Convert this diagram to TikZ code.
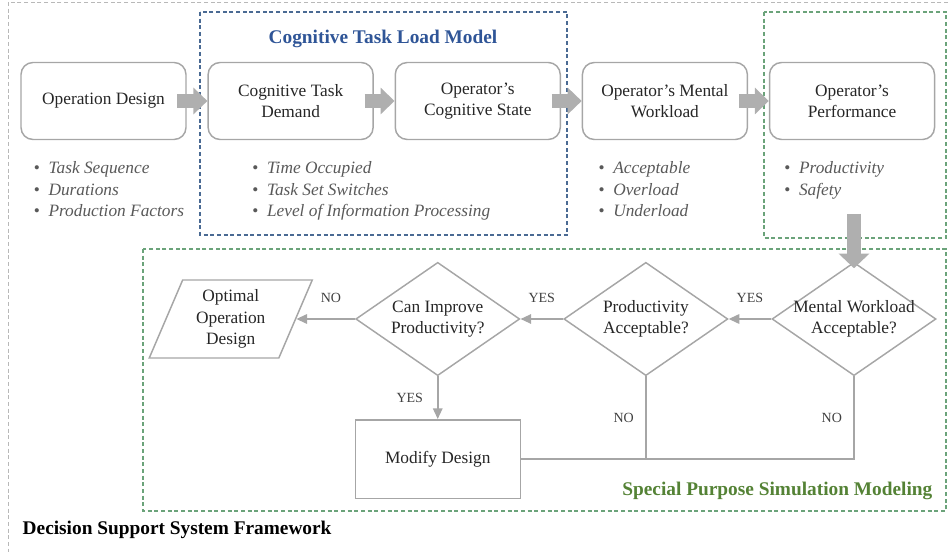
\documentclass[tikz,border=0pt]{standalone}
\usepackage{fontspec}
\setmainfont{Liberation Serif}
\usepackage{tikz}
\usetikzlibrary{shapes.geometric, arrows.meta, positioning}

\definecolor{linegray}{HTML}{A6A6A6}
\definecolor{boxtext}{HTML}{262626}
\definecolor{listgray}{HTML}{595959}
\definecolor{ctlblue}{HTML}{4A6A93}
\definecolor{titleblue}{HTML}{2F5597}
\definecolor{spsgreen}{HTML}{6BA37A}
\definecolor{titlegreen}{HTML}{548235}
\definecolor{outergray}{HTML}{B8B8B8}

\newcommand{\itm}[1]{\makebox[11pt][l]{\textbullet}\textit{#1}}

\tikzset{
  stagebox/.style={draw=linegray, line width=1.1pt, rounded corners=9pt, text=boxtext,
    minimum width=123.75pt, minimum height=57.75pt, align=center,
    font=\fontsize{13}{16}\selectfont},
  bullets/.style={text=listgray, align=left, inner sep=0pt,
    font=\fontsize{13}{16}\selectfont},
  decision/.style={diamond, draw=linegray, line width=1.1pt, inner sep=0pt,
    minimum width=123pt, minimum height=85pt},
  dtext/.style={align=center, text=boxtext, font=\fontsize{13}{16}\selectfont},
  process/.style={draw=linegray, line width=1.1pt, text=boxtext,
    minimum width=123.75pt, minimum height=59pt, font=\fontsize{13}{16}\selectfont},
  output/.style={trapezium, trapezium left angle=68, trapezium right angle=112,
    trapezium stretches=true, draw=linegray, line width=1.1pt, text=boxtext,
    minimum width=123pt, minimum height=58.5pt, align=center,
    font=\fontsize{13}{16}\selectfont},
  fatarrow/.style={draw=linegray!90, line width=10.5pt,
    -{Triangle[length=10.5pt, width=19.5pt]}},
  downarrow/.style={draw=linegray!90, line width=10.5pt,
    -{Triangle[length=11pt, width=22.5pt]}},
  flow/.style={draw=linegray, line width=1.5pt, -{Triangle[length=8pt, width=7pt]}},
  flowline/.style={draw=linegray, line width=1.5pt},
  lbl/.style={text=black!75, font=\fontsize{10.5}{12}\selectfont},
  frame/.style={dashed, dash pattern=on 3pt off 2pt, line width=0.9pt},
  heading/.style={font=\fontsize{14.5}{17}\selectfont\bfseries}
}

\begin{document}
\begin{tikzpicture}[x=0.75pt, y=-0.75pt, node distance=15.5pt]
  \useasboundingbox (0,0) rectangle (951,552);

  % frames
  \draw[frame, outergray, line width=0.7pt] (8,2) rectangle (970,570);
  \draw[frame, ctlblue] (200,12) rectangle (567,235);
  \draw[frame, spsgreen] (764,12) rectangle (946,238);
  \draw[frame, spsgreen] (143,249) rectangle (946,511);

  \node (ctltitle) [heading, text=titleblue] at (383,39) {Cognitive Task Load Model};
  \node (spstitle) [heading, text=titlegreen, anchor=east] at (937,491) {Special Purpose Simulation Modeling};
  \node (dsstitle) [heading, text=black, anchor=west] at (18,530) {Decision Support System Framework};

  % top row
  \node (od) [stagebox] at (103.5,101) {Operation Design};
  \node (ctd) [stagebox, right=of od] {Cognitive Task\\Demand};
  \node (ocs) [stagebox, right=of ctd] {Operator's\\Cognitive State};
  \node (omw) [stagebox, right=of ocs] {Operator's Mental\\Workload};
  \node (perf) [stagebox, right=of omw] {Operator's\\Performance};

  \node (odlist) [bullets, below right=16pt and 10pt of od.south west]
    {\itm{Task Sequence}\\\itm{Durations}\\\itm{Production Factors}};
  \node (ctdlist) [bullets, below right=16pt and 33.5pt of ctd.south west]
    {\itm{Time Occupied}\\\itm{Task Set Switches}\\\itm{Level of Information Processing}};
  \node (omwlist) [bullets, below right=16pt and 12.5pt of omw.south west]
    {\itm{Acceptable}\\\itm{Overload}\\\itm{Underload}};
  \node (perflist) [bullets, below right=16pt and 11.5pt of perf.south west]
    {\itm{Productivity}\\\itm{Safety}};

  \draw[fatarrow] ([xshift=-7pt]od.east) -- (ctd.west);
  \draw[fatarrow] ([xshift=-7pt]ctd.east) -- (ocs.west);
  \draw[fatarrow] ([xshift=-7pt]ocs.east) -- (omw.west);
  \draw[fatarrow] ([xshift=-7pt]omw.east) -- (perf.west);

  % simulation loop
  \node (mwa) [decision, label={[dtext]center:Mental Workload\\Acceptable?}] at (854,319) {};
  \node (pa) [decision, left=32pt of mwa, label={[dtext]center:Productivity\\Acceptable?}] {};
  \node (cip) [decision, left=32pt of pa, label={[dtext]center:Can Improve\\Productivity?}] {};
  \node (ood) [output, left=44pt of cip] {Optimal\\Operation\\Design};
  \node (md) [process, below=32pt of cip] {Modify Design};

  \coordinate [below=55pt of perf.south] (perfout);
  \draw[downarrow] (perfout -| mwa.north) -- ([yshift=-5pt]mwa.north);

  \draw[flow] (mwa.west) -- node[lbl, above=8pt] {YES} (pa.east);
  \draw[flow] (pa.west) -- node[lbl, above=8pt] {YES} (cip.east);
  \draw[flow] (cip.west) -- node[lbl, above=8pt, xshift=4pt] {NO} (ood.east);
  \draw[flow] (cip.south) -- node[lbl, left=7pt] {YES} (md.north);
  \draw[flowline] (mwa.south) |- node[lbl, pos=0.25, left=5pt] {NO} (md.east);
  \draw[flowline] (pa.south) -- node[lbl, left=5pt] {NO} (pa.south |- md.east);
\end{tikzpicture}
\end{document}
